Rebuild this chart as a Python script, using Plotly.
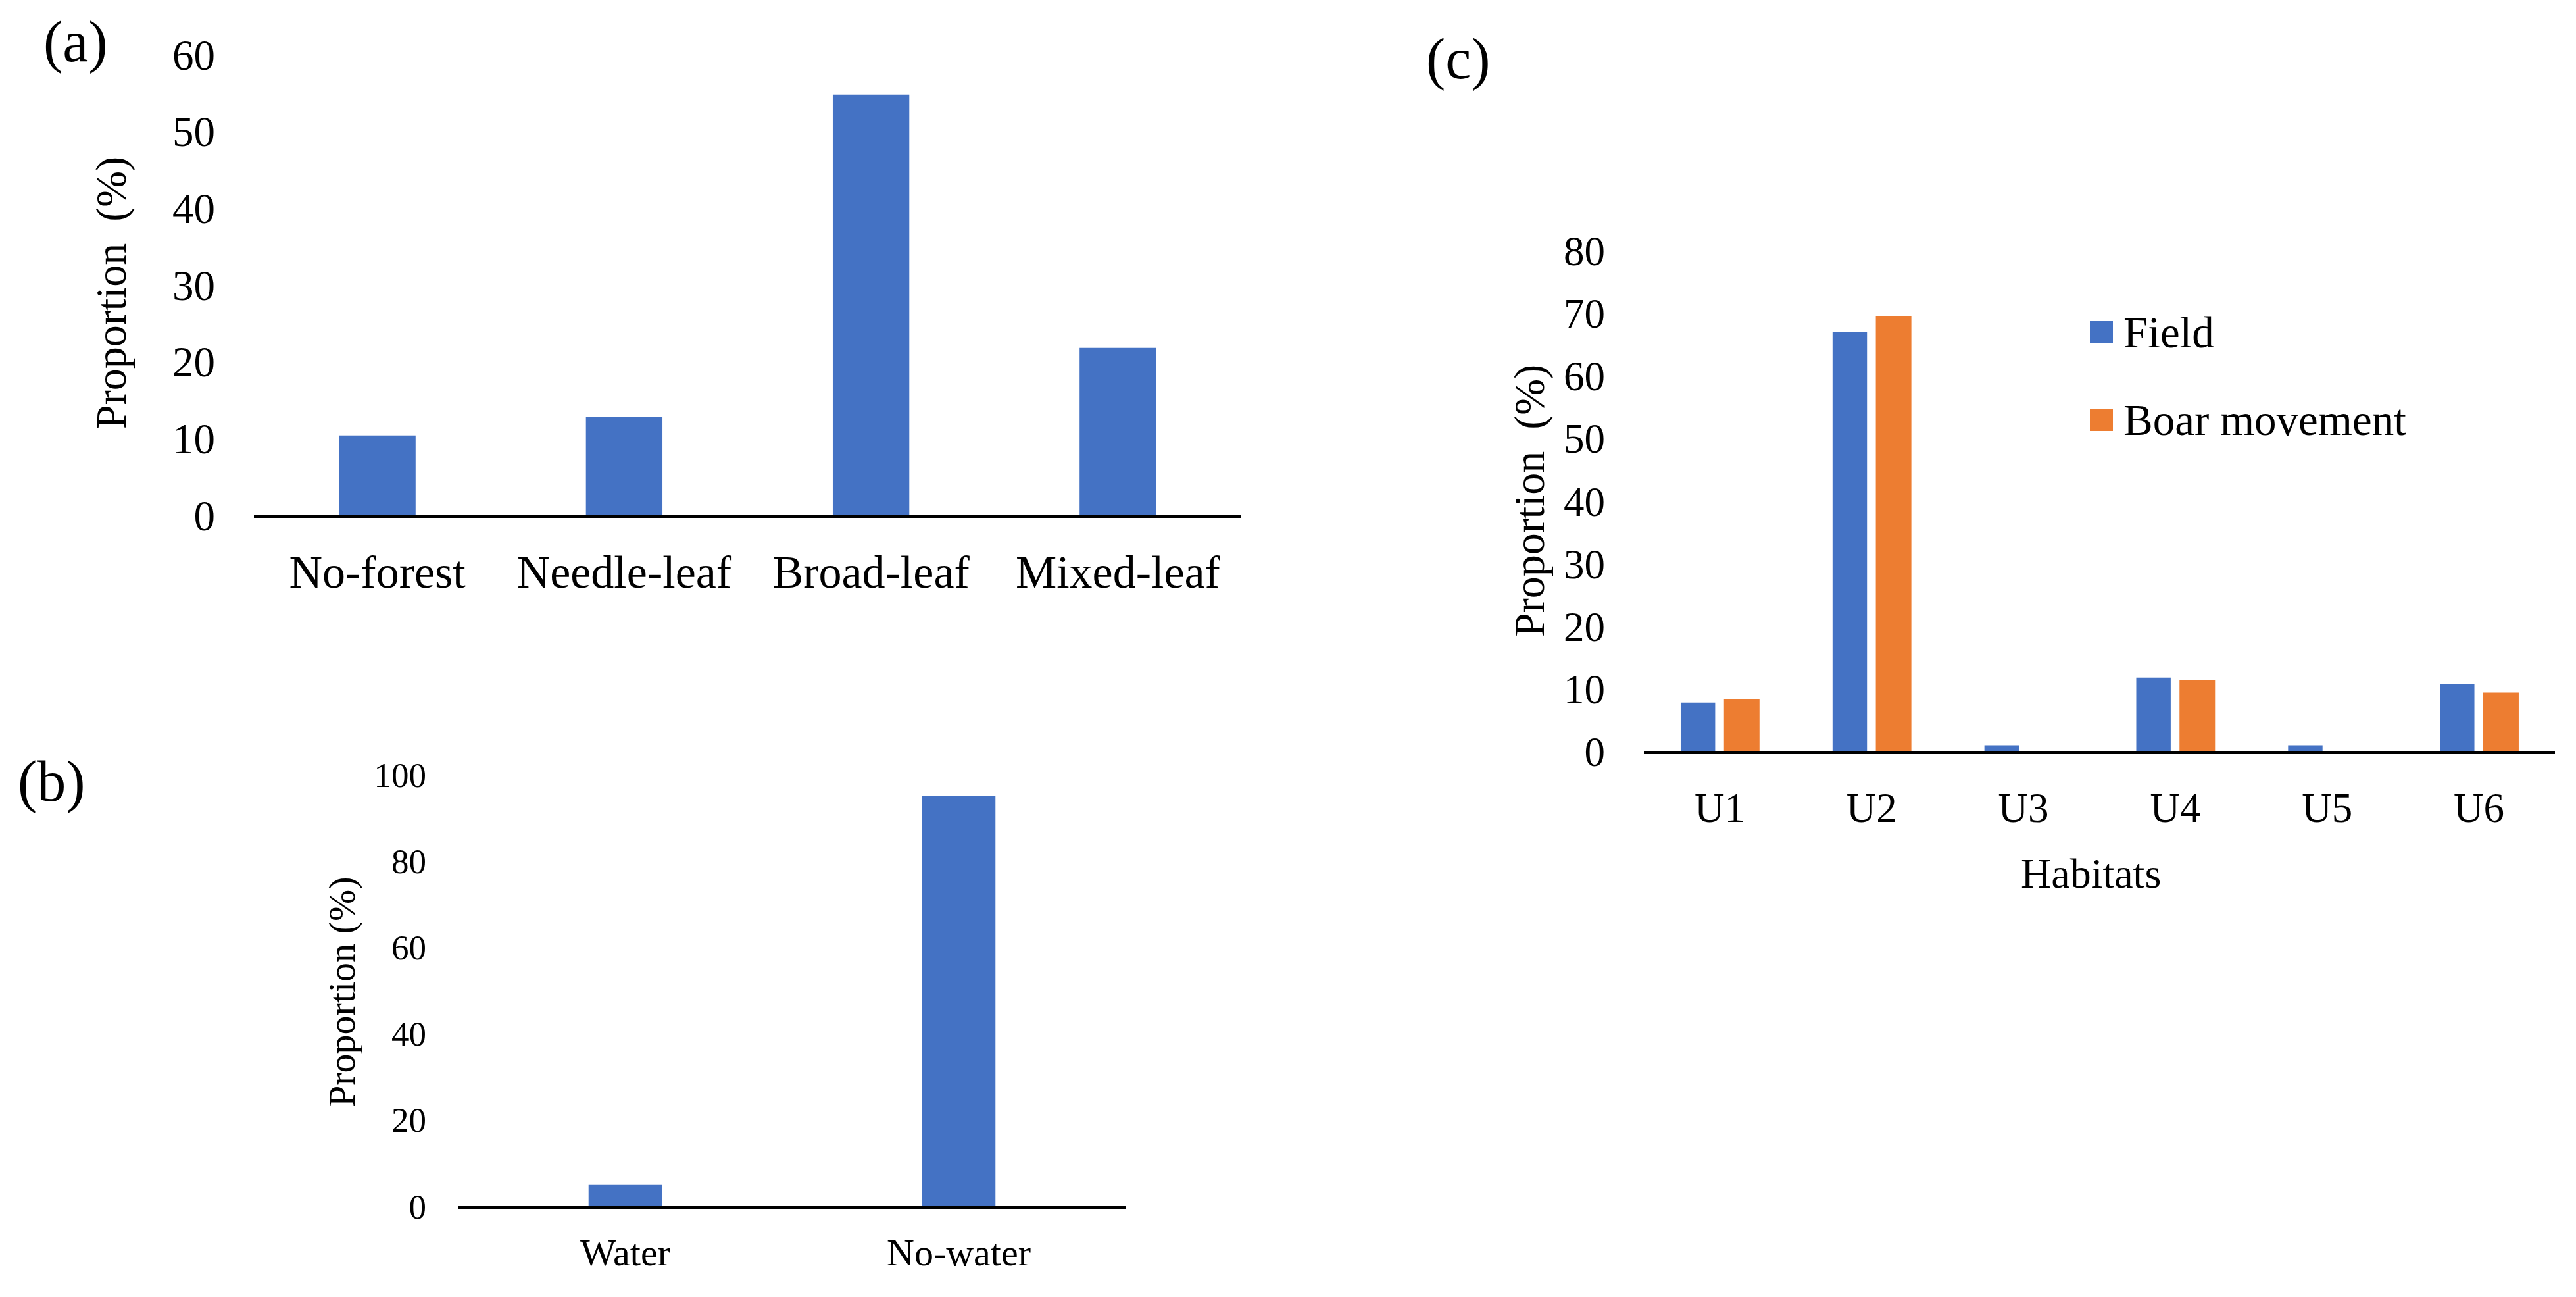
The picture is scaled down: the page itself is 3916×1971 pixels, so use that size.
import plotly.graph_objects as go

# ---------------- data ----------------
forest_cats = ["No-forest", "Needle-leaf", "Broad-leaf", "Mixed-leaf"]
forest_vals = [10.4, 12.8, 54.8, 21.8]

water_cats = ["Water", "No-water"]
water_vals = [4.9, 95.1]

habitat_cats = ["U1", "U2", "U3", "U4", "U5", "U6"]
field_vals = [7.8, 67.0, 1.0, 11.8, 1.0, 10.8]
boar_vals = [8.3, 69.6, 0.0, 11.4, 0.0, 9.4]

series_names = ["Field", "Boar movement"]
panel_labels = ["(a)", "(b)", "(c)"]

# ---------------- style ----------------
W, H = 3916, 1971          # browser window
OFF = 8                    # default body margin of the html page
FW, FH = W - 2 * OFF, H - 2 * OFF
BLUE = "#4472C4"
ORANGE = "#ED7D31"
FONT = "Liberation Serif, Times New Roman, serif"


def px(xp):
    return (xp - OFF) / FW


def py(yp):
    return 1 - (yp - OFF) / FH


fig = go.Figure()

fig.add_trace(go.Bar(x=forest_cats, y=forest_vals, xaxis="x", yaxis="y",
                     marker=dict(color=BLUE, line=dict(width=0)), width=0.31,
                     showlegend=False))
fig.add_trace(go.Bar(x=water_cats, y=water_vals, xaxis="x2", yaxis="y2",
                     marker=dict(color=BLUE, line=dict(width=0)), width=0.22,
                     showlegend=False))
fig.add_trace(go.Bar(x=habitat_cats, y=field_vals, xaxis="x3", yaxis="y3",
                     name=series_names[0],
                     marker=dict(color=BLUE, line=dict(width=0)),
                     width=0.227, offset=-0.2575, showlegend=False))
fig.add_trace(go.Bar(x=habitat_cats, y=boar_vals, xaxis="x3", yaxis="y3",
                     name=series_names[1],
                     marker=dict(color=ORANGE, line=dict(width=0)),
                     width=0.234, offset=0.0275, showlegend=False))

xcommon = dict(showline=True, linecolor="black", linewidth=4, ticks="",
               showgrid=False, zeroline=False, fixedrange=True, automargin=False)
ycommon = dict(showline=False, ticks="", showgrid=False, zeroline=False,
               fixedrange=True, automargin=False)

fig.update_layout(
    width=FW, height=FH,
    margin=dict(l=0, r=0, t=0, b=0, autoexpand=False),
    paper_bgcolor="white", plot_bgcolor="white",
    font=dict(family=FONT, color="black"),
    barmode="overlay",
    showlegend=False,
    xaxis=dict(domain=[px(386), px(1887)], anchor="y",
               tickfont=dict(size=70), ticklabelstandoff=22, **xcommon),
    yaxis=dict(domain=[py(783), py(83)], anchor="x", range=[0, 60], dtick=10,
               tickfont=dict(size=65), ticklabelstandoff=58, **ycommon),
    xaxis2=dict(domain=[px(697), px(1711)], anchor="y2",
                tickfont=dict(size=58), ticklabelstandoff=16, **xcommon),
    yaxis2=dict(domain=[py(1833), py(1177)], anchor="x2", range=[0, 100], dtick=20,
                tickfont=dict(size=53), ticklabelstandoff=48, **ycommon),
    xaxis3=dict(domain=[px(2499), px(3884)], anchor="y3",
                tickfont=dict(size=63), ticklabelstandoff=27, **xcommon),
    yaxis3=dict(domain=[py(1142), py(381)], anchor="x3", range=[0, 80], dtick=10,
                tickfont=dict(size=63), ticklabelstandoff=58, **ycommon),
)

annotations = [
    # panel labels
    dict(text=panel_labels[0], x=px(115), y=py(63), font=dict(size=88)),
    dict(text=panel_labels[1], x=px(78), y=py(1187), font=dict(size=88)),
    dict(text=panel_labels[2], x=px(2217), y=py(89), font=dict(size=88)),
    # y titles
    dict(text="Proportion\u00a0 (%)", x=px(169), y=py(445), textangle=-90,
         font=dict(size=66)),
    dict(text="Proportion (%)", x=px(519), y=py(1507), textangle=-90,
         font=dict(size=58)),
    dict(text="Proportion\u00a0 (%)", x=px(2325), y=py(761), textangle=-90,
         font=dict(size=66)),
    # x title (c)
    dict(text="Habitats", x=px(3178), y=py(1327), font=dict(size=64)),
    # legend texts
    dict(text=series_names[0], x=px(3226), y=py(505), xanchor="left",
         font=dict(size=67)),
    dict(text=series_names[1], x=px(3226), y=py(638), xanchor="left",
         font=dict(size=67)),
]
for a in annotations:
    a.setdefault("xanchor", "center")
    a.update(xref="paper", yref="paper", yanchor="middle", showarrow=False)
fig.update_layout(annotations=annotations)

# legend keys
fig.update_layout(shapes=[
    dict(type="rect", xref="paper", yref="paper",
         x0=px(3177), x1=px(3212), y0=py(521), y1=py(488),
         fillcolor=BLUE, line=dict(width=0)),
    dict(type="rect", xref="paper", yref="paper",
         x0=px(3177), x1=px(3212), y0=py(655), y1=py(621),
         fillcolor=ORANGE, line=dict(width=0)),
])

fig.write_html("out.html", config={"displayModeBar": False})
